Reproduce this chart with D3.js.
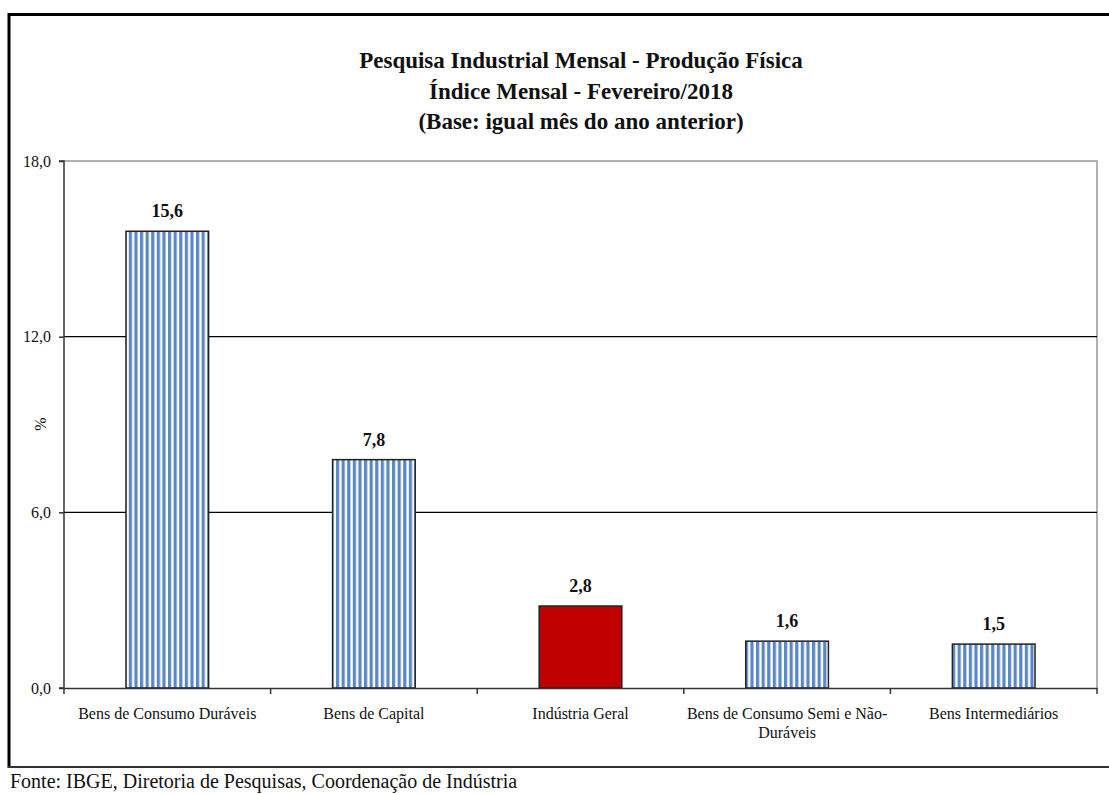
<!DOCTYPE html>
<html><head><meta charset="utf-8">
<script src="https://cdn.jsdelivr.net/npm/d3@7"></script>
<style>body{margin:0;background:#fff}svg{display:block}</style>
</head><body>
<svg id="c" width="1109" height="794"></svg>
<script>
const categories = ["Bens de Consumo Duráveis","Bens de Capital","Indústria Geral","Bens de Consumo Semi e Não-Duráveis","Bens Intermediários"];
const labelLines = [["Bens de Consumo Duráveis"],["Bens de Capital"],["Indústria Geral"],["Bens de Consumo Semi e Não-","Duráveis"],["Bens Intermediários"]];
const values = [15.6, 7.8, 2.8, 1.6, 1.5];
const highlight = [false, false, true, false, false];
const yTicks = [0, 6, 12, 18];
const titleLines = ["Pesquisa Industrial Mensal - Produção Física","Índice Mensal - Fevereiro/2018","(Base: igual mês do ano anterior)"];
const source = "Fonte: IBGE, Diretoria de Pesquisas, Coordenação de Indústria";

const font = "'Liberation Serif', 'DejaVu Serif', serif";
const svg = d3.select("#c");
const L = 64, R = 1097, T = 161, B = 688;

const defs = svg.append("defs");
const pat = defs.append("pattern").attr("id","stripes").attr("patternUnits","userSpaceOnUse")
  .attr("width",5.6).attr("height",10);
pat.append("rect").attr("width",5.6).attr("height",10).attr("fill","#fff");
pat.append("rect").attr("x",0).attr("width",3.2).attr("height",10).attr("fill","#5a87c6");

// outer frame
svg.append("line").attr("x1",8).attr("x2",1109).attr("y1",14.5).attr("y2",14.5).attr("stroke","#000").attr("stroke-width",3);
svg.append("line").attr("x1",9).attr("x2",9).attr("y1",13).attr("y2",768).attr("stroke","#000").attr("stroke-width",3);
svg.append("line").attr("x1",8).attr("x2",1109).attr("y1",767).attr("y2",767).attr("stroke","#333").attr("stroke-width",2);

// title
svg.append("g").selectAll("text").data(titleLines).join("text")
  .attr("x",581).attr("y",(d,i)=>68+i*30.5).attr("text-anchor","middle")
  .attr("font-family",font).attr("font-weight","bold").attr("font-size",23).attr("fill","#111")
  .text(d=>d);

const x = d3.scaleBand().domain(categories).range([L,R]).paddingInner(0.6).paddingOuter(0.3);
const y = d3.scaleLinear().domain([0,18]).range([B,T]);

// plot border (top/right gray)
svg.append("path").attr("d",`M${L},${T}H${R}V${B}`).attr("fill","none").attr("stroke","#999").attr("stroke-width",1.5);

// gridlines
svg.append("g").selectAll("line").data(yTicks.filter(t=>t>0&&t<18)).join("line")
  .attr("x1",L).attr("x2",R).attr("y1",d=>y(d)).attr("y2",d=>y(d)).attr("stroke","#000").attr("stroke-width",1.2);

// bars
svg.append("g").selectAll("rect").data(values).join("rect")
  .attr("x",(d,i)=>x(categories[i])).attr("width",x.bandwidth())
  .attr("y",d=>y(d)).attr("height",d=>B-y(d))
  .attr("fill",(d,i)=>highlight[i]?"#c00000":"url(#stripes)")
  .attr("stroke","#222").attr("stroke-width",1.5);

// value labels
svg.append("g").selectAll("text").data(values).join("text")
  .attr("x",(d,i)=>x(categories[i])+x.bandwidth()/2).attr("y",d=>y(d)-14)
  .attr("text-anchor","middle").attr("font-family",font).attr("font-weight","bold")
  .attr("font-size",18).attr("fill","#111").text(d=>d3.format(".1f")(d).replace(".",","));

// y axis
const yAxis = d3.axisLeft(y).tickValues(yTicks).tickSize(5).tickFormat(d=>d3.format(".1f")(d).replace(".",","));
const gy = svg.append("g").attr("transform",`translate(${L},0)`).call(yAxis);
gy.select(".domain").attr("stroke","#333").attr("stroke-width",1.5).attr("d",`M-5,${T}H0V${B}H-5`);
gy.selectAll(".tick line").attr("stroke","#333").attr("stroke-width",1.5);
gy.selectAll(".tick text").attr("font-family",font).attr("font-size",16).attr("fill","#111").attr("x",-13);

// x axis
const xb = d3.scaleBand().domain(categories).range([L,R]);
const xAxis = d3.axisBottom(xb).tickSize(0).tickFormat("");
const gx = svg.append("g").attr("transform",`translate(0,${B})`).call(xAxis);
gx.select(".domain").attr("stroke","#333").attr("stroke-width",1.5);
const tickPos = categories.map(c=>xb(c)).concat([R]);
svg.append("g").selectAll("line").data(tickPos).join("line")
  .attr("x1",d=>d).attr("x2",d=>d).attr("y1",B).attr("y2",B+6).attr("stroke","#333").attr("stroke-width",1.5);

const lab = svg.append("g").selectAll("text").data(labelLines).join("text")
  .attr("text-anchor","middle").attr("font-family",font).attr("font-size",16).attr("fill","#111");
lab.each(function(lines,i){
  const cx = xb(categories[i]) + xb.bandwidth()/2;
  d3.select(this).selectAll("tspan").data(lines).join("tspan")
    .attr("x",cx).attr("y",(d,j)=>719+j*19).text(d=>d);
});

// y title
svg.append("text").attr("transform","translate(46,424) rotate(-90)").attr("text-anchor","middle")
  .attr("font-family",font).attr("font-size",16).attr("fill","#111").text("%");

// source
svg.append("text").attr("x",10).attr("y",788).attr("font-family",font).attr("font-size",20).attr("fill","#111").text(source);
</script>
</body></html>
